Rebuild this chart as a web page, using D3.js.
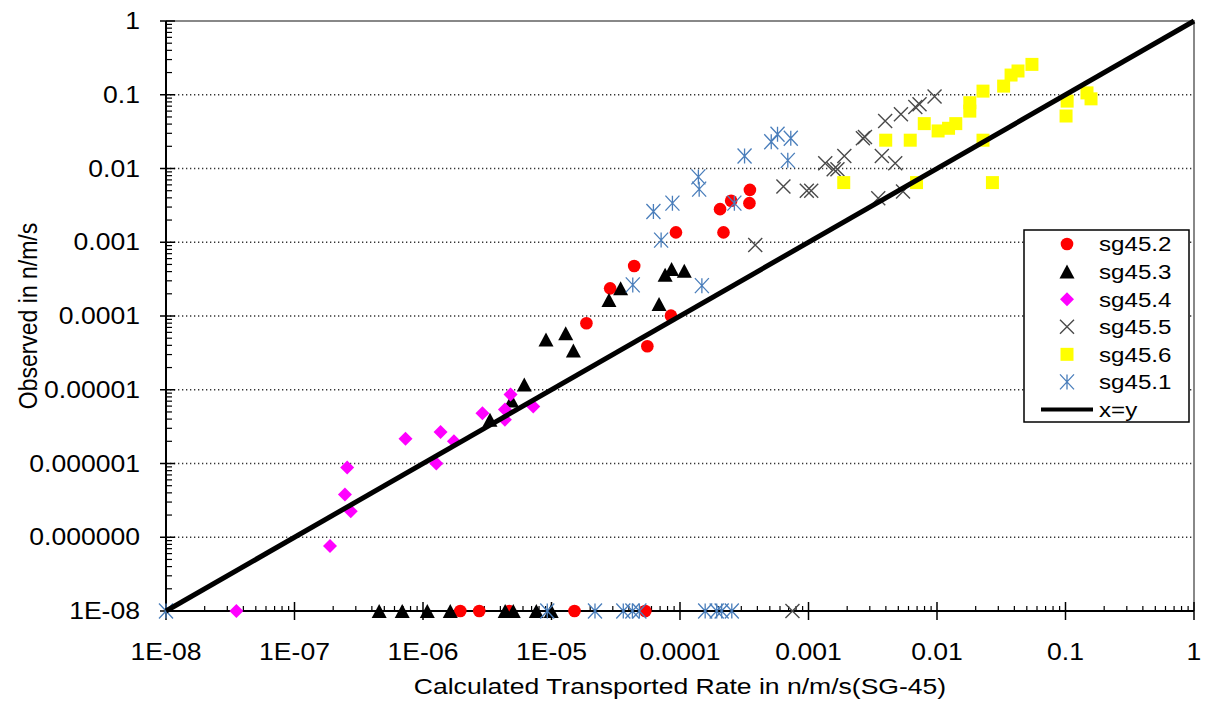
<!DOCTYPE html>
<html>
<head>
<meta charset="utf-8">
<script src="https://cdn.jsdelivr.net/npm/d3@7"></script>
<style>
body { margin: 0; background: #fff; }
text { font-family: Arial, "Liberation Sans", sans-serif; fill: #000; }
</style>
</head>
<body>
<svg></svg>
<script>
// values (x = calculated, y = observed)
var sg452X = [9.3e-5, 2.18e-4, 2.05e-4, 3.47e-4, 3.5e-4, 2.5e-4, 4.4e-5, 2.86e-5, 1.87e-5, 8.5e-5, 5.57e-5, 1.95e-6, 2.74e-6, 4.69e-6, 1.51e-5, 5.37e-5];
var sg452Y = [1.36e-3, 1.36e-3, 2.81e-3, 3.39e-3, 5.13e-3, 3.65e-3, 4.77e-4, 2.37e-4, 7.96e-5, 1.01e-4, 3.89e-5, 1e-8, 1e-8, 1e-8, 1e-8, 1e-8];

var sg453X = [3.32e-6, 4.89e-6, 6.14e-6, 9.06e-6, 1.29e-5, 1.48e-5, 2.8e-5, 3.45e-5, 6.87e-5, 7.66e-5, 8.6e-5, 1.08e-4, 4.56e-7, 6.89e-7, 1.08e-6, 1.63e-6, 4.36e-6, 5.04e-6, 7.62e-6, 9.95e-6];
var sg453Y = [3.93e-6, 7.16e-6, 1.18e-5, 4.8e-5, 5.83e-5, 3.4e-5, 1.65e-4, 2.37e-4, 1.46e-4, 3.63e-4, 4.33e-4, 4.11e-4, 1e-8, 1e-8, 1e-8, 1e-8, 1e-8, 1e-8, 1e-8, 1e-8];

var sg454X = [2.57e-7, 2.47e-7, 2.74e-7, 1.89e-7, 7.31e-7, 1.37e-6, 1.74e-6, 1.27e-6, 2.9e-6, 4.34e-6, 4.8e-6, 4.34e-6, 7.21e-6, 3.53e-8];
var sg454Y = [8.82e-7, 3.79e-7, 2.25e-7, 7.59e-8, 2.17e-6, 2.67e-6, 2.01e-6, 9.97e-7, 4.82e-6, 5.41e-6, 8.63e-6, 3.93e-6, 5.94e-6, 1e-8];

var sg455X = [6.38e-4, 9.7e-4, 1.05e-3, 1.35e-3, 1.57e-3, 1.68e-3, 1.9e-3, 2.65e-3, 2.75e-3, 3.72e-3, 4.73e-3, 3.95e-3, 5.24e-3, 6.78e-3, 7.31e-3, 9.57e-3, 3.49e-3, 5.44e-3, 3.85e-4, 7.5e-4];
var sg455Y = [5.69e-3, 4.98e-3, 4.98e-3, 1.18e-2, 9.8e-3, 9.8e-3, 1.48e-2, 2.57e-2, 2.67e-2, 1.48e-2, 1.18e-2, 4.41e-2, 5.43e-2, 6.83e-2, 7.41e-2, 9.5e-2, 3.96e-3, 4.86e-3, 9.16e-4, 1e-8];

var sg456X = [1.88e-3, 3.99e-3, 6.19e-3, 6.93e-3, 7.96e-3, 1.02e-2, 1.23e-2, 1.40e-2, 1.80e-2, 1.80e-2, 2.28e-2, 2.28e-2, 2.70e-2, 3.30e-2, 3.77e-2, 4.27e-2, 5.48e-2, 0.103, 0.101, 0.147, 0.158];
var sg456Y = [6.44e-3, 2.42e-2, 2.42e-2, 6.44e-3, 4.06e-2, 3.23e-2, 3.51e-2, 4.06e-2, 7.8e-2, 6.0e-2, 0.112, 2.42e-2, 6.44e-3, 0.131, 0.185, 0.21, 0.258, 0.082, 0.0515, 0.106, 0.088];

var sg451X = [4.29e-5, 7.13e-5, 6.21e-5, 8.73e-5, 1.39e-4, 1.41e-4, 2.65e-4, 3.18e-4, 5.13e-4, 5.74e-4, 7.28e-4, 6.9e-4, 1.48e-4, 1e-8, 9.27e-6, 2.18e-5, 3.62e-5, 4.26e-5, 4.83e-5, 1.57e-4, 1.93e-4, 2.11e-4, 2.53e-4];
var sg451Y = [2.64e-4, 1.07e-3, 2.61e-3, 3.39e-3, 7.69e-3, 5.25e-3, 3.39e-3, 1.48e-2, 2.31e-2, 2.91e-2, 2.57e-2, 1.29e-2, 2.58e-4, 1e-8, 1e-8, 1e-8, 1e-8, 1e-8, 1e-8, 1e-8, 1e-8, 1e-8, 1e-8];

var lineXY = [1e-8, 1];

var seriesNames = ["sg45.2", "sg45.3", "sg45.4", "sg45.5", "sg45.6", "sg45.1"];
var xTickLabels = ["1E-08", "1E-07", "1E-06", "1E-05", "0.0001", "0.001", "0.01", "0.1", "1"];
var yTickLabels = ["1E-08", "0.000000", "0.000001", "0.00001", "0.0001", "0.001", "0.01", "0.1", "1"];
var xTitle = "Calculated Transported Rate in n/m/s(SG-45)";
var yTitle = "Observed in n/m/s";

var svgWidth = 1206;
var svgHeight = 703;
var plotLeft = 166, plotRight = 1194, plotTop = 21, plotBottom = 611;

var svg = d3.select("svg")
    .attr("width", svgWidth)
    .attr("height", svgHeight);

var xScale = d3.scaleLog().domain([1e-8, 1]).range([plotLeft, plotRight]);
var yScale = d3.scaleLog().domain([1e-8, 1]).range([plotBottom, plotTop]);

function isDecade(d) {
    return Math.abs(Math.log10(d) - Math.round(Math.log10(d))) < 1e-6;
}
var majors = xScale.ticks().filter(isDecade);
var minors = xScale.ticks().filter(function(d) { return !isDecade(d); });

// dotted horizontal gridlines
svg.append("g").selectAll("line")
    .data(majors.slice(1, majors.length - 1))
    .enter()
    .append("line")
    .attr("x1", plotLeft).attr("x2", plotRight)
    .attr("y1", function(d) { return yScale(d); })
    .attr("y2", function(d) { return yScale(d); })
    .attr("stroke", "#333")
    .attr("stroke-width", 1.3)
    .attr("stroke-dasharray", "1.3,2.7");

// plot border (top and right)
svg.append("path")
    .attr("d", "M" + plotLeft + "," + plotTop + "H" + plotRight + "V" + plotBottom)
    .attr("fill", "none")
    .attr("stroke", "#888")
    .attr("stroke-width", 2);

// y axis
var yAxisG = svg.append("g");
yAxisG.append("line")
    .attr("x1", plotLeft).attr("x2", plotLeft).attr("y1", plotTop).attr("y2", plotBottom)
    .attr("stroke", "#000").attr("stroke-width", 2);
yAxisG.selectAll(".minor")
    .data(minors)
    .enter()
    .append("line")
    .attr("x1", plotLeft).attr("x2", plotLeft + 6)
    .attr("y1", function(d) { return yScale(d); })
    .attr("y2", function(d) { return yScale(d); })
    .attr("stroke", "#000").attr("stroke-width", 1.2);
yAxisG.selectAll(".major")
    .data(majors)
    .enter()
    .append("line")
    .attr("x1", plotLeft - 6).attr("x2", plotLeft + 9)
    .attr("y1", function(d) { return yScale(d); })
    .attr("y2", function(d) { return yScale(d); })
    .attr("stroke", "#000").attr("stroke-width", 1.5);
yAxisG.selectAll("text")
    .data(majors)
    .enter()
    .append("text")
    .text(function(d, i) { return yTickLabels[i]; })
    .attr("text-anchor", "end")
    .attr("dy", "0.35em")
    .attr("font-size", "23.5px")
    .attr("transform", function(d) {
        return "translate(140," + yScale(d) + ") scale(1.13,1)";
    });

// x axis
var xAxisG = svg.append("g");
xAxisG.append("line")
    .attr("x1", plotLeft).attr("x2", plotRight).attr("y1", plotBottom).attr("y2", plotBottom)
    .attr("stroke", "#000").attr("stroke-width", 2);
xAxisG.selectAll(".minor")
    .data(minors)
    .enter()
    .append("line")
    .attr("x1", function(d) { return xScale(d); })
    .attr("x2", function(d) { return xScale(d); })
    .attr("y1", plotBottom - 5).attr("y2", plotBottom)
    .attr("stroke", "#000").attr("stroke-width", 1.2);
xAxisG.selectAll(".major")
    .data(majors)
    .enter()
    .append("line")
    .attr("x1", function(d) { return xScale(d); })
    .attr("x2", function(d) { return xScale(d); })
    .attr("y1", plotBottom - 9).attr("y2", plotBottom + 9)
    .attr("stroke", "#000").attr("stroke-width", 1.5);
xAxisG.selectAll("text")
    .data(majors)
    .enter()
    .append("text")
    .text(function(d, i) { return xTickLabels[i]; })
    .attr("text-anchor", "middle")
    .attr("font-size", "23.5px")
    .attr("transform", function(d) {
        return "translate(" + xScale(d) + ",660) scale(1.13,1)";
    });

// axis titles
svg.append("text")
    .text(xTitle)
    .attr("text-anchor", "middle")
    .attr("font-size", "22.5px")
    .attr("transform", "translate(" + ((plotLeft + plotRight) / 2) + ",694) scale(1.18,1)");
svg.append("text")
    .text(yTitle)
    .attr("text-anchor", "middle")
    .attr("font-size", "23px")
    .attr("transform", "translate(37," + ((plotTop + plotBottom) / 2) + ") scale(1.15,1) rotate(-90)");

// marker shapes
var markers = [
    { d: d3.symbol().type(d3.symbolCircle).size(125)(), fill: "#ff0000", stroke: "none", sw: 0 },
    { d: "M0,-7L7.5,7L-7.5,7Z", fill: "#000", stroke: "none", sw: 0 },
    { d: "M0,-7L7,0L0,7L-7,0Z", fill: "#ff00ff", stroke: "none", sw: 0 },
    { d: "M-7,-7L7,7M-7,7L7,-7", fill: "none", stroke: "#4a4a4a", sw: 1.4 },
    { d: "M-6.5,-6.5H6.5V6.5H-6.5Z", fill: "#ffff00", stroke: "none", sw: 0 },
    { d: "M-7,-7.5L7,7.5M-7,7.5L7,-7.5M0,-7.5L0,7.5", fill: "none", stroke: "#4a7ebb", sw: 1.3 }
];
var seriesX = [sg452X, sg453X, sg454X, sg455X, sg456X, sg451X];
var seriesY = [sg452Y, sg453Y, sg454Y, sg455Y, sg456Y, sg451Y];

seriesX.forEach(function(xs, s) {
    var m = markers[s];
    svg.append("g").selectAll("path")
        .data(d3.zip(xs, seriesY[s]))
        .enter()
        .append("path")
        .attr("d", m.d)
        .attr("fill", m.fill)
        .attr("stroke", m.stroke)
        .attr("stroke-width", m.sw)
        .attr("transform", function(d) {
            return "translate(" + xScale(d[0]) + "," + yScale(d[1]) + ")";
        });
});

// x = y line
svg.append("line")
    .attr("x1", xScale(lineXY[0])).attr("y1", yScale(lineXY[0]))
    .attr("x2", xScale(lineXY[1])).attr("y2", yScale(lineXY[1]))
    .attr("stroke", "#000")
    .attr("stroke-width", 5);

// legend
var legend = svg.append("g");
legend.append("rect")
    .attr("x", 1024).attr("y", 230)
    .attr("width", 165).attr("height", 192)
    .attr("fill", "#fff")
    .attr("stroke", "#000")
    .attr("stroke-width", 1.5);
var legendY = d3.scaleLinear().domain([0, 6]).range([244, 409.5]);
seriesNames.forEach(function(name, i) {
    var m = markers[i];
    legend.append("path")
        .attr("d", m.d)
        .attr("fill", m.fill)
        .attr("stroke", m.stroke)
        .attr("stroke-width", m.sw)
        .attr("transform", "translate(1067," + legendY(i) + ")");
    legend.append("text")
        .text(name)
        .attr("dy", "0.35em")
        .attr("font-size", "21px")
        .attr("transform", "translate(1099," + legendY(i) + ") scale(1.15,1)");
});
legend.append("line")
    .attr("x1", 1041).attr("x2", 1093)
    .attr("y1", legendY(6)).attr("y2", legendY(6))
    .attr("stroke", "#000").attr("stroke-width", 4);
legend.append("text")
    .text("x=y")
    .attr("dy", "0.35em")
    .attr("font-size", "21px")
    .attr("transform", "translate(1099," + legendY(6) + ") scale(1.15,1)");
</script>
</body>
</html>
